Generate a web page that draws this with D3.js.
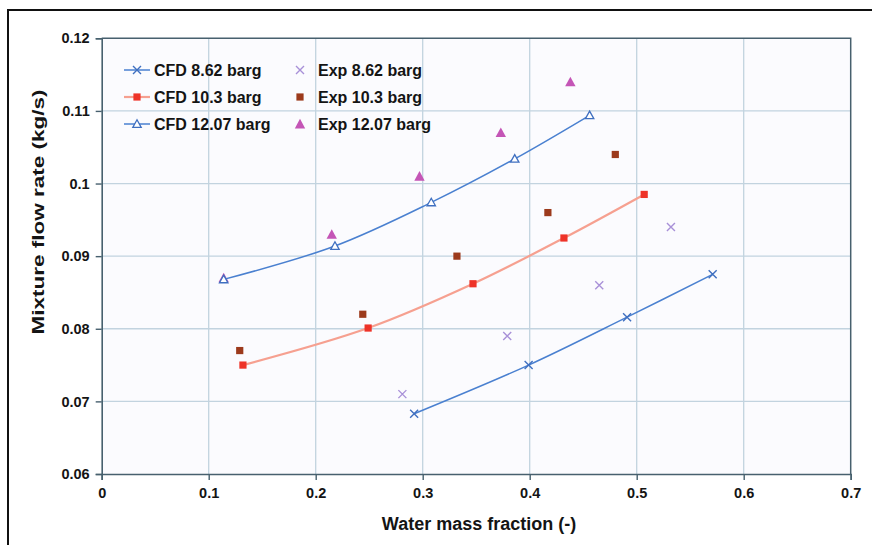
<!DOCTYPE html>
<html>
<head>
<meta charset="utf-8">
<script src="https://cdn.jsdelivr.net/npm/d3@7"></script>
<style>
  html, body { margin: 0; padding: 0; background: #ffffff; }
  svg { display: block; }
  text { font-family: "Liberation Sans", Arial, sans-serif; font-weight: bold; fill: #141414; }
</style>
</head>
<body>
<svg id="chart" width="872" height="545"></svg>
<script>
// Mixture flow rate vs water mass fraction: CFD curves and experimental points
const cfd862X = [0.292, 0.399, 0.491, 0.571];
const cfd862Y = [0.0683, 0.0750, 0.0816, 0.0875];
const cfd103X = [0.132, 0.249, 0.347, 0.432, 0.507];
const cfd103Y = [0.0750, 0.0801, 0.0862, 0.0925, 0.0985];
const cfd1207X = [0.114, 0.218, 0.308, 0.386, 0.456];
const cfd1207Y = [0.0868, 0.0914, 0.0974, 0.1034, 0.1094];
const exp862X = [0.281, 0.379, 0.465, 0.532];
const exp862Y = [0.071, 0.079, 0.086, 0.094];
const exp103X = [0.129, 0.244, 0.332, 0.417, 0.480];
const exp103Y = [0.077, 0.082, 0.090, 0.096, 0.104];
const exp1207X = [0.114, 0.215, 0.297, 0.373, 0.438];
const exp1207Y = [0.087, 0.093, 0.101, 0.107, 0.114];

const xTicks = [0, 0.1, 0.2, 0.3, 0.4, 0.5, 0.6, 0.7];
const yTicks = [0.06, 0.07, 0.08, 0.09, 0.1, 0.11, 0.12];
const xTitle = "Water mass fraction (-)";
const yTitle = "Mixture flow rate (kg/s)";

const zip = (xs, ys) => xs.map((x, i) => ({ x, y: ys[i] }));

const series = [
  { name: "CFD 8.62 barg", pts: zip(cfd862X, cfd862Y), line: "#4a80d0", lw: 1.5, marker: "cross", mcolor: "#3f6fc0", col: 0, row: 0 },
  { name: "CFD 10.3 barg", pts: zip(cfd103X, cfd103Y), line: "#f6a090", lw: 2.2, marker: "square", mcolor: "#ee3328", col: 0, row: 1 },
  { name: "CFD 12.07 barg", pts: zip(cfd1207X, cfd1207Y), line: "#4a80d0", lw: 1.5, marker: "triOpen", mcolor: "#3f6fc0", col: 0, row: 2 },
  { name: "Exp 8.62 barg", pts: zip(exp862X, exp862Y), line: null, marker: "cross", mcolor: "#a890d8", col: 1, row: 0 },
  { name: "Exp 10.3 barg", pts: zip(exp103X, exp103Y), line: null, marker: "squareDark", mcolor: "#9c3a1c", col: 1, row: 1 },
  { name: "Exp 12.07 barg", pts: zip(exp1207X, exp1207Y), line: null, marker: "triFill", mcolor: "#c455b6", col: 1, row: 2 }
];

const svg = d3.select("#chart");
const x = d3.scaleLinear().domain([0, 0.7]).range([101.7, 850.7]);
const y = d3.scaleLinear().domain([0.06, 0.12]).range([474, 38.3]);

// outer frame
svg.append("rect").attr("x", 8).attr("y", 10).attr("width", 900).attr("height", 600)
  .attr("fill", "#ffffff").attr("stroke", "#111").attr("stroke-width", 2);

// plot background
svg.append("rect").attr("x", x(0)).attr("y", y(0.12))
  .attr("width", x(0.7) - x(0)).attr("height", y(0.06) - y(0.12))
  .attr("fill", "#fbfbfe");

// gridlines
const grid = svg.append("g").attr("stroke", "#c2d3df").attr("stroke-width", 1.3);
xTicks.filter(t => t > 0 && t < 0.7).forEach(t => {
  grid.append("line").attr("x1", x(t)).attr("x2", x(t)).attr("y1", y(0.06)).attr("y2", y(0.12));
});
yTicks.filter(t => t > 0.06 && t < 0.12).forEach(t => {
  grid.append("line").attr("x1", x(0)).attr("x2", x(0.7)).attr("y1", y(t)).attr("y2", y(t));
});

// plot frame (top/right)
svg.append("path")
  .attr("d", `M${x(0)},${y(0.12)}H${x(0.7)}V${y(0.06)}`)
  .attr("fill", "none").attr("stroke", "#47606e").attr("stroke-width", 1.5);

// axes
const xAxis = d3.axisBottom(x).tickValues(xTicks).tickSize(6).tickPadding(8)
  .tickFormat(d => String(+d.toFixed(1)));
const yAxis = d3.axisLeft(y).tickValues(yTicks).tickSize(6).tickPadding(6)
  .tickFormat(d => String(+d.toFixed(2)));

const gx = svg.append("g").attr("transform", `translate(0,${y(0.06)})`).call(xAxis);
const gy = svg.append("g").attr("transform", `translate(${x(0)},0)`).call(yAxis);
[gx, gy].forEach(g => {
  g.select(".domain").attr("stroke", "#47606e").attr("stroke-width", 1.6);
  g.selectAll(".tick line").attr("stroke", "#47606e").attr("stroke-width", 1.4);
  g.selectAll(".tick text").attr("font-size", 14.5).attr("font-weight", "bold")
    .attr("font-family", "'Liberation Sans', Arial, sans-serif").attr("fill", "#141414");
});
gx.selectAll(".tick text").attr("dy", "0.71em");

// axis titles
svg.append("text").attr("x", 479).attr("y", 530).attr("text-anchor", "middle")
  .attr("font-size", 18).text(xTitle);
svg.append("text").attr("transform", "translate(44,212) rotate(-90)")
  .attr("text-anchor", "middle").attr("font-size", 17)
  .attr("textLength", 245).attr("lengthAdjust", "spacingAndGlyphs").text(yTitle);

// markers
function drawMarker(g, type, color, cx, cy) {
  if (type === "cross") {
    const s = 4;
    g.append("path").attr("d", `M${cx - s},${cy - s}L${cx + s},${cy + s}M${cx - s},${cy + s}L${cx + s},${cy - s}`)
      .attr("stroke", color).attr("stroke-width", 1.4).attr("fill", "none");
  } else if (type === "square" || type === "squareDark") {
    const s = 3.6;
    g.append("rect").attr("x", cx - s).attr("y", cy - s).attr("width", 2 * s).attr("height", 2 * s)
      .attr("fill", color);
  } else if (type === "triOpen") {
    const s = 4.2;
    g.append("path").attr("d", `M${cx},${cy - s}L${cx + s},${cy + s * 0.8}L${cx - s},${cy + s * 0.8}Z`)
      .attr("fill", "#ffffff").attr("stroke", color).attr("stroke-width", 1.3);
  } else if (type === "triFill") {
    const s = 5.2;
    g.append("path").attr("d", `M${cx},${cy - s}L${cx + s},${cy + s * 0.85}L${cx - s},${cy + s * 0.85}Z`)
      .attr("fill", color);
  }
}

const lineGen = d3.line().x(d => x(d.x)).y(d => y(d.y)).curve(d3.curveCatmullRom.alpha(0.5));

// experimental points first, then CFD curves on top
series.filter(s => !s.line).forEach(s => {
  const g = svg.append("g");
  s.pts.forEach(p => drawMarker(g, s.marker, s.mcolor, x(p.x), y(p.y)));
});
series.filter(s => s.line).forEach(s => {
  svg.append("path").datum(s.pts).attr("d", lineGen)
    .attr("fill", "none").attr("stroke", s.line).attr("stroke-width", s.lw);
  const g = svg.append("g");
  s.pts.forEach(p => drawMarker(g, s.marker, s.mcolor, x(p.x), y(p.y)));
});

// legend
const legRows = [70, 97, 124];
const legCols = [{ lx0: 124, lx1: 150, mx: 137, tx: 154 }, { mx: 300, tx: 318 }];
series.forEach(s => {
  const c = legCols[s.col], ly = legRows[s.row];
  const g = svg.append("g");
  if (s.line) {
    g.append("line").attr("x1", c.lx0).attr("x2", c.lx1).attr("y1", ly).attr("y2", ly)
      .attr("stroke", s.line).attr("stroke-width", s.lw);
  }
  drawMarker(g, s.marker, s.mcolor, c.mx, ly);
  g.append("text").attr("x", c.tx).attr("y", ly).attr("dy", "0.36em")
    .attr("font-size", 16).text(s.name);
});
</script>
</body>
</html>
